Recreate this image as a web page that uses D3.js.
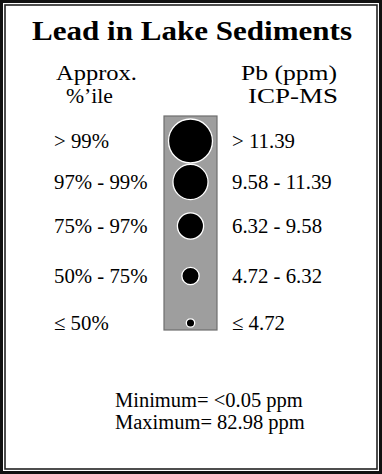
<!DOCTYPE html>
<html><head><meta charset="utf-8">
<script src="https://cdn.jsdelivr.net/npm/d3@7"></script>
<style>body{margin:0;background:#fff}svg{display:block}</style>
</head><body>
<script>
const title = "Lead in Lake Sediments";
const percentileLabels = ["> 99%", "97% - 99%", "75% - 97%", "50% - 75%", "\u2264 50%"];
const rangeLabels = ["> 11.39", "9.58 - 11.39", "6.32 - 9.58", "4.72 - 6.32", "\u2264 4.72"];
const classRank = [5, 4, 3, 2, 1];
const minText = "Minimum= <0.05 ppm";
const maxText = "Maximum= 82.98 ppm";

const W = 382, H = 474;
const svg = d3.select("body").append("svg").attr("width", W).attr("height", H);
const serif = "'Liberation Serif','Times New Roman',serif";

// frame
svg.append("rect").attr("x",1.5).attr("y",1.5).attr("width",W-3).attr("height",H-3)
  .attr("fill","#fff").attr("stroke","#111").attr("stroke-width",3);
svg.append("rect").attr("x",5).attr("y",5).attr("width",W-10).attr("height",H-10)
  .attr("fill","none").attr("stroke","#222").attr("stroke-width",1.6);

svg.append("text").attr("x",32).attr("y",40)
  .attr("font-family",serif).attr("font-weight","bold").attr("font-size",27.5)
  .attr("textLength",320).attr("lengthAdjust","spacingAndGlyphs").text(title);

const hdr = svg.append("g").attr("font-family",serif).attr("font-size",22).attr("fill","#000");
hdr.append("text").attr("x",56).attr("y",80).attr("textLength",81).attr("lengthAdjust","spacingAndGlyphs").text("Approx.");
hdr.append("text").attr("x",66).attr("y",103).attr("textLength",47).attr("lengthAdjust","spacingAndGlyphs").text("%\u2019ile");
hdr.append("text").attr("x",241).attr("y",80).attr("textLength",96).attr("lengthAdjust","spacingAndGlyphs").text("Pb (ppm)");
hdr.append("text").attr("x",248).attr("y",103).attr("textLength",90).attr("lengthAdjust","spacingAndGlyphs").text("ICP-MS");

// vertical row positions and symbol sizes
const yPos = d3.scaleOrdinal().domain(d3.range(5)).range([141, 182, 226, 276, 323]);
const r = d3.scaleLinear().domain([1, 5]).range([4.2, 22]);

svg.append("rect").attr("x",164).attr("y",116).attr("width",53).attr("height",214)
  .attr("fill","#9e9e9e").attr("stroke","#6e6e6e").attr("stroke-width",1.2);

const rows = svg.selectAll("g.row").data(d3.range(percentileLabels.length)).join("g").attr("class","row");
rows.append("circle").attr("cx",190.5).attr("cy",i=>yPos(i)).attr("r",i=>r(classRank[i]))
  .attr("fill","#000").attr("stroke","#fff").attr("stroke-width",1.3);
rows.append("text").attr("x",54).attr("y",i=>yPos(i)+7).attr("font-family",serif).attr("font-size",20.8)
  .text(i=>percentileLabels[i]);
rows.append("text").attr("x",232).attr("y",i=>yPos(i)+7).attr("font-family",serif).attr("font-size",20.8)
  .text(i=>rangeLabels[i]);

const foot = svg.append("g").attr("font-family",serif).attr("font-size",20.5);
foot.append("text").attr("x",115).attr("y",407).text(minText);
foot.append("text").attr("x",115).attr("y",429).text(maxText);
</script>
</body></html>
